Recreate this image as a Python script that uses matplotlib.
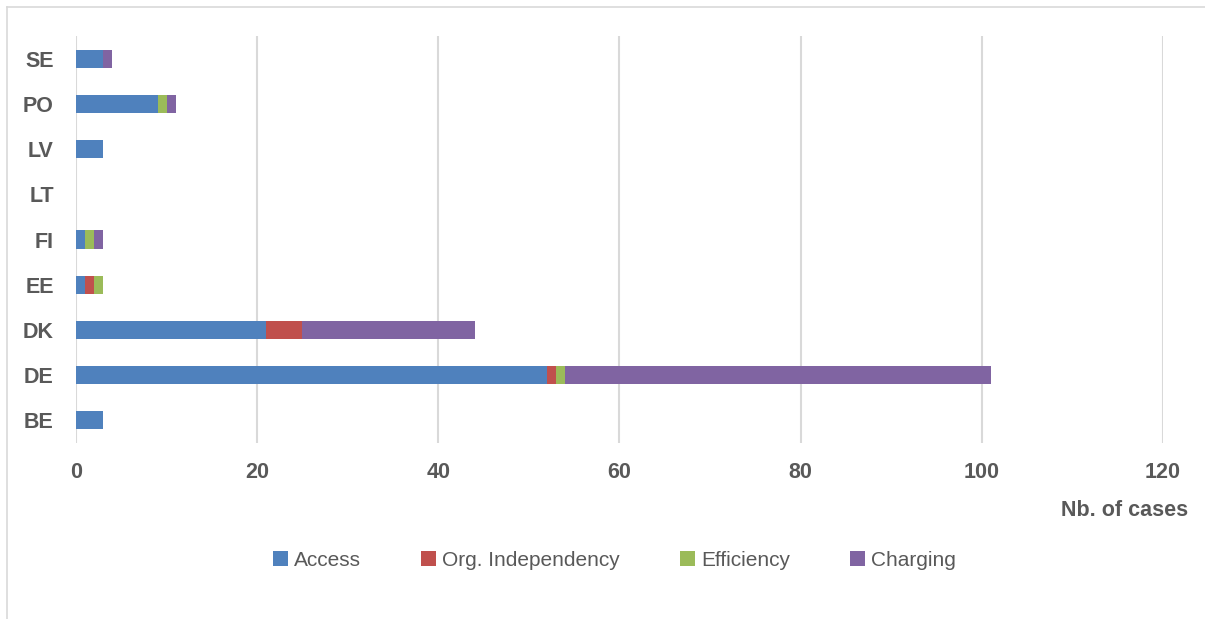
import matplotlib.pyplot as plt
from matplotlib.lines import Line2D
import numpy as np

countries = ['BE', 'DE', 'DK', 'EE', 'FI', 'LT', 'LV', 'PO', 'SE']
access = [3, 52, 21, 1, 1, 0, 3, 9, 3]
org_independency = [0, 1, 4, 1, 0, 0, 0, 0, 0]
efficiency = [0, 1, 0, 1, 1, 0, 0, 1, 0]
charging = [0, 47, 19, 0, 1, 0, 0, 1, 1]

series = [
    ('Access', access, '#4F81BD'),
    ('Org. Independency', org_independency, '#C0504D'),
    ('Efficiency', efficiency, '#9BBB59'),
    ('Charging', charging, '#8064A2'),
]

plt.rcParams['font.family'] = ['Liberation Sans', 'DejaVu Sans']
grey = '#595959'

fig = plt.figure(figsize=(12.05, 6.19), dpi=100)
ax = fig.add_axes([0.0631, 0.2843, 0.902, 0.6575])

y = np.arange(len(countries))
left = np.zeros(len(countries))
for name, vals, color in series:
    ax.barh(y, vals, left=left, height=0.4, color=color, label=name, zorder=3)
    left += np.array(vals)

ax.set_xlim(0, 120)
ax.set_ylim(-0.5, len(countries) - 0.5)
ax.set_xticks(range(0, 121, 20))
ax.set_yticks(y)
ax.set_yticklabels(countries)
ax.grid(axis='x', color='#D9D9D9', linewidth=1.5, zorder=0)
ax.set_axisbelow(True)
for s in ax.spines.values():
    s.set_visible(False)
ax.tick_params(length=0, colors=grey, labelsize=15.5)
ax.tick_params(axis='x', pad=14)
ax.tick_params(axis='y', pad=16)
for lbl in ax.get_xticklabels() + ax.get_yticklabels():
    lbl.set_fontweight('bold')

fig.text(0.986, 0.175, 'Nb. of cases', ha='right', va='center',
         fontsize=15.5, fontweight='bold', color=grey)

fig.legend(loc='center', bbox_to_anchor=(0.51, 0.095), ncol=4, frameon=False,
           fontsize=15, labelcolor=grey, handlelength=0.7, handleheight=0.7,
           handletextpad=0.3, columnspacing=2.9)

# outer frame lines (top and left)
fig.add_artist(Line2D([0.006, 1.0], [0.989, 0.989], color='#D9D9D9', linewidth=1.2,
                      transform=fig.transFigure))
fig.add_artist(Line2D([0.006, 0.006], [0.0, 0.989], color='#D9D9D9', linewidth=1.2,
                      transform=fig.transFigure))

fig.savefig('out.png', dpi=100)
